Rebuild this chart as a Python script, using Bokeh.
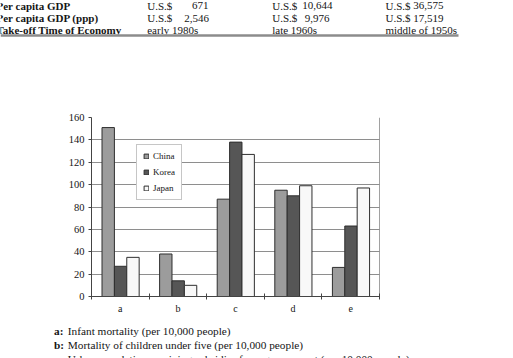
from bokeh.plotting import figure
from bokeh.layouts import column
from bokeh.models import Range1d, FixedTicker, Span
from bokeh.core.properties import value
from bokeh.embed import file_html
from bokeh.resources import INLINE

# --- chart data -------------------------------------------------------------
categories = ["a", "b", "c", "d", "e"]
china = [151, 38, 87, 95, 26]
korea = [27, 14, 138, 90, 63]
japan = [35, 10, 127, 99, 97]
y_ticks = [0, 20, 40, 60, 80, 100, 120, 140, 160]

# --- table above the chart --------------------------------------------------
row_labels = ["Per capita GDP", "Per capita GDP (ppp)", "Take-off Time of Economy"]
gdp = ["671", "10,644", "36,575"]
gdp_ppp = ["2,546", "9,976", "17,519"]
takeoff = ["early 1980s", "late 1960s", "middle of 1950s"]

# --- notes below the chart --------------------------------------------------
note_keys = ["a:", "b:", "c:"]
note_texts = [
    "Infant mortality (per 10,000 people)",
    "Mortality of children under five (per 10,000 people)",
    "Urban population receiving subsidies from government (per 10,000 people)",
]

SERIF = value("Liberation Serif")
TXT = "#151515"


def blank_fig(height, y0, y1):
    f = figure(width=513, height=height, x_range=Range1d(0, 513),
               y_range=Range1d(y1, y0), output_backend="svg",
               toolbar_location=None, x_axis_location=None,
               y_axis_location=None, min_border=0, frame_align=False)
    f.grid.visible = False
    f.outline_line_color = None
    f.background_fill_color = "white"
    f.border_fill_color = "white"
    return f


def put(fig, xs, ys, texts, size="11px", **kw):
    fig.text(x=xs, y=ys, text=texts, text_font=SERIF, text_font_size=size,
             text_baseline="middle", text_color=TXT, **kw)


# ---------------- table ----------------
top = blank_fig(40, 0, 40)
rows_y = [5.2, 17.6, 29.6]
col_left = [146.7, 271.7, 385.0]
gdp_right = [208.0, 332.0, 443.0]
ppp_right = [208.5, 329.0, 443.0]
put(top, [-4] * 3, rows_y, row_labels, text_font_style="bold")
for i in range(3):
    put(top, [col_left[i]] * 2, rows_y[:2], ["U.S.$", "U.S.$"])
    put(top, [gdp_right[i], ppp_right[i]], rows_y[:2], [gdp[i], gdp_ppp[i]],
        text_align="right")
put(top, col_left, [rows_y[2]] * 3, takeoff)
top.segment(x0=[0], y0=[35.0], x1=[458], y1=[35.0], line_width=2.5,
            line_color="#8c8c8c")

# ---------------- bar chart ----------------
p = figure(width=513, height=278, x_range=Range1d(0, 5),
           y_range=Range1d(0, 160), output_backend="svg",
           toolbar_location=None, min_border_left=91, min_border_right=134,
           min_border_top=77, min_border_bottom=22, frame_align=False)
p.background_fill_color = "white"
p.border_fill_color = "white"
p.outline_line_color = None

centers = [i + 0.5 for i in range(len(categories))]
bar_w = 0.215
series = [("China", china, -0.21, "#9c9c9c"),
          ("Korea", korea, 0.005, "#565656"),
          ("Japan", japan, 0.22, "#f8f8f8")]
for name, vals, off, col in series:
    p.vbar(x=[c + off for c in centers], top=vals, width=bar_w, bottom=0,
           fill_color=col, line_color="#2e2e2e", line_width=1,
           legend_label=name)

p.xgrid.visible = False
p.ygrid.ticker = FixedTicker(ticks=y_ticks)
p.ygrid.grid_line_color = "#8e8e8e"
p.ygrid.grid_line_width = 1

p.yaxis.ticker = FixedTicker(ticks=y_ticks)
p.yaxis.major_tick_out = 3
p.yaxis.major_tick_in = 0
p.yaxis.minor_tick_line_color = None
p.yaxis.axis_line_color = "#444444"
p.yaxis.major_tick_line_color = "#444444"
p.yaxis.major_label_standoff = 4
p.yaxis.major_label_text_font = "Liberation Serif"
p.yaxis.major_label_text_font_size = "10.5px"
p.yaxis.major_label_text_color = TXT

p.xaxis.ticker = FixedTicker(ticks=centers, minor_ticks=[0, 1, 2, 3, 4, 5])
p.xaxis.major_label_overrides = {c: lab for c, lab in zip(centers, categories)}
p.xaxis.major_tick_line_color = None
p.xaxis.major_tick_out = 0
p.xaxis.major_tick_in = 0
p.xaxis.minor_tick_in = 3
p.xaxis.minor_tick_out = 3
p.xaxis.minor_tick_line_color = "#444444"
p.xaxis.axis_line_color = "#444444"
p.xaxis.major_label_standoff = 3
p.xaxis.major_label_text_font = "Liberation Serif"
p.xaxis.major_label_text_font_size = "10px"
p.xaxis.major_label_text_color = TXT

p.add_layout(Span(location=5, dimension="height", line_color="#444444",
                  line_width=1))

lg = p.legend[0]
lg.location = (45, 96)
lg.margin = 0
lg.padding = 6
lg.spacing = 6
lg.glyph_width = 6
lg.glyph_height = 6
lg.label_height = 8
lg.label_standoff = 4
lg.label_text_font = "Liberation Serif"
lg.label_text_font_size = "9px"
lg.label_text_color = TXT
lg.border_line_color = "#8e8e8e"
lg.border_line_width = 1
lg.background_fill_color = "white"
lg.background_fill_alpha = 1

# ---------------- notes ----------------
bottom = blank_fig(40, 318, 358)
notes_y = [330.7, 344.5, 358.3]
put(bottom, [53.5] * 3, notes_y, note_keys, size="11.3px",
    text_font_style="bold")
put(bottom, [67.3] * 3, notes_y, note_texts, size="11.3px")

layout = column(top, p, bottom, spacing=0)
open("out.html", "w").write(file_html(layout, INLINE))
